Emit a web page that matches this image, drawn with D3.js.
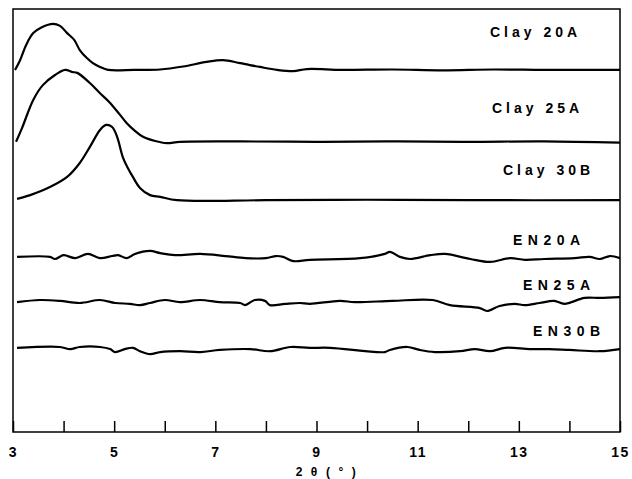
<!DOCTYPE html>
<html>
<head>
<meta charset="utf-8">
<script src="https://cdn.jsdelivr.net/npm/d3@7"></script>
<style>
  body { margin: 0; background: #fff; }
  svg text { font-family: "Liberation Sans", Arial, sans-serif; font-weight: bold; fill: #000; }
</style>
</head>
<body>
<script>
// 2theta (deg) vs intensity (a.u., stacked)
const xTicks = [3, 4, 5, 6, 7, 8, 9, 10, 11, 12, 13, 14, 15];
const xTickLabels = [3, 5, 7, 9, 11, 13, 15];

const clay20A = [[3.04,85.6],[3.14,87.9],[3.26,91.5],[3.40,94.3],[3.57,95.7],[3.79,96.5],[3.93,96.0],[4.07,94.3],[4.21,92.7],[4.32,90.3],[4.46,88.4],[4.58,87.2],[4.72,86.3],[4.88,85.6],[5.4,85.6],[5.91,85.7],[6.36,86.4],[6.83,87.5],[7.15,87.9],[7.49,87.2],[7.88,86.3],[8.22,85.6],[8.54,85.3],[8.81,85.8],[9.5,85.6],[10.5,85.7],[11.5,85.5],[12.5,85.7],[13.5,85.6],[14.5,85.6],[15,85.6]];
const clay25A = [[3.06,68.6],[3.18,71.9],[3.40,78.5],[3.59,82.0],[3.83,84.4],[4.03,85.6],[4.17,85.1],[4.27,84.9],[4.52,82.5],[4.72,80.1],[4.92,77.8],[5.12,74.9],[5.25,73.0],[5.41,71.2],[5.57,69.8],[5.81,68.8],[6.04,68.3],[6.30,68.6],[7.5,68.7],[9,68.6],[10.5,68.7],[12,68.6],[13.5,68.7],[15,68.4]];
const clay30B = [[3.08,55.1],[3.34,56.0],[3.73,57.9],[4.07,60.3],[4.32,63.6],[4.52,67.4],[4.72,71.4],[4.84,72.6],[4.96,72.1],[5.06,69.7],[5.17,65.0],[5.27,62.4],[5.37,60.3],[5.51,57.7],[5.71,56.0],[5.91,55.6],[6.24,54.8],[8,54.8],[10,54.9],[12,54.8],[15,54.8]];
const en20A = [[3.08,41.4],[3.73,41.4],[3.83,40.9],[4.0,41.8],[4.23,41.1],[4.48,42.1],[4.72,41.1],[4.96,41.6],[5.08,41.8],[5.25,41.1],[5.41,42.1],[5.71,42.8],[5.91,42.3],[6.2,41.8],[6.7,42.1],[7.2,41.6],[7.6,41.1],[8.0,41.1],[8.2,41.6],[8.34,41.4],[8.54,40.4],[8.87,40.7],[9.86,41.1],[10.35,42.1],[10.45,42.6],[10.65,41.4],[10.85,40.9],[11.25,41.8],[11.54,42.1],[12.04,40.9],[12.43,40.2],[12.83,41.1],[13.12,40.7],[13.5,40.9],[14.1,41.1],[14.4,41.4],[14.6,40.9],[14.8,41.6],[15,41.1]];
const en25A = [[3.08,30.7],[3.53,31.2],[3.93,31.0],[4.32,30.5],[4.72,31.2],[5.02,30.5],[5.31,30.3],[5.51,30.0],[5.71,30.5],[6.0,31.2],[6.3,30.7],[6.7,31.2],[7.09,30.7],[7.49,30.5],[7.59,30.0],[7.78,31.2],[7.98,31.0],[8.08,30.0],[8.38,30.3],[8.67,30.5],[8.87,30.3],[9.46,31.0],[9.76,30.7],[10.5,31.0],[11.3,31.2],[11.64,30.0],[12.23,29.3],[12.37,28.6],[12.62,29.8],[12.92,30.3],[13.12,30.0],[13.41,30.5],[13.7,31.0],[13.9,30.3],[14.3,31.7],[14.6,31.7],[15,31.9]];
const en30B = [[3.08,19.9],[3.93,20.1],[4.13,19.6],[4.32,20.1],[4.72,20.1],[4.92,19.6],[5.02,18.9],[5.21,19.6],[5.37,19.9],[5.51,19.1],[5.71,18.4],[5.91,18.9],[6.3,19.1],[6.7,18.9],[7.09,19.4],[7.69,19.6],[8.08,19.1],[8.48,20.1],[8.87,19.9],[9.27,19.9],[10.35,18.9],[10.45,19.4],[10.8,20.1],[11.04,19.4],[11.34,18.9],[11.84,19.1],[12.13,19.6],[12.43,19.1],[12.73,19.9],[13.22,19.6],[13.6,19.6],[14.0,19.4],[14.6,19.1],[15,19.6]];

const series = [
  { name: "Clay 20A", data: clay20A, lx: 490, ly: 37, ls: 4 },
  { name: "Clay 25A", data: clay25A, lx: 492, ly: 113, ls: 4 },
  { name: "Clay 30B", data: clay30B, lx: 503, ly: 175, ls: 4 },
  { name: "EN20A", data: en20A, lx: 513, ly: 245, ls: 5.5 },
  { name: "EN25A", data: en25A, lx: 523, ly: 290, ls: 5.5 },
  { name: "EN30B", data: en30B, lx: 533, ly: 336, ls: 5.5 }
];

const W = 632, H = 479;
const plotLeft = 13, plotRight = 620, plotTop = 9, plotBottom = 432;

const svg = d3.select("body").append("svg")
  .attr("width", W)
  .attr("height", H);

const x = d3.scaleLinear().domain([3, 15]).range([plotLeft, plotRight]);
const y = d3.scaleLinear().domain([0, 100]).range([plotBottom, plotTop]);

// frame
svg.append("rect")
  .attr("x", plotLeft).attr("y", plotTop)
  .attr("width", plotRight - plotLeft).attr("height", plotBottom - plotTop)
  .attr("fill", "none").attr("stroke", "#000").attr("stroke-width", 1.5);

// bottom axis, ticks pointing inward
const xAxis = d3.axisBottom(x)
  .tickValues(xTicks)
  .tickSize(-11)
  .tickFormat(d => xTickLabels.includes(d) ? d : "");

const gx = svg.append("g")
  .attr("transform", "translate(0," + plotBottom + ")")
  .call(xAxis);
gx.select(".domain").remove();
gx.selectAll(".tick line").attr("stroke", "#000").attr("stroke-width", 1.5);
gx.selectAll(".tick text")
  .attr("y", 15)
  .attr("dy", "0.71em")
  .style("font-size", "14px")
  .style("letter-spacing", "1.5px")
  .style("font-family", "'Liberation Sans', Arial, sans-serif")
  .style("font-weight", "bold")
  .attr("fill", "#000");

svg.append("text")
  .attr("x", 327).attr("y", 476)
  .attr("text-anchor", "middle")
  .style("font-size", "12px")
  .style("letter-spacing", "2.6px")
  .text("2 θ ( ° )");

const line = d3.line()
  .x(d => x(d[0]))
  .y(d => y(d[1]))
  .curve(d3.curveCatmullRom);

svg.selectAll("path.trace")
  .data(series)
  .enter()
  .append("path")
  .attr("class", "trace")
  .attr("d", d => line(d.data))
  .attr("fill", "none")
  .attr("stroke", "#000")
  .attr("stroke-width", 2.2);

svg.selectAll("text.lbl")
  .data(series)
  .enter()
  .append("text")
  .attr("class", "lbl")
  .attr("x", d => d.lx)
  .attr("y", d => d.ly)
  .style("font-size", "14px")
  .style("letter-spacing", d => d.ls + "px")
  .text(d => d.name);
</script>
</body>
</html>
